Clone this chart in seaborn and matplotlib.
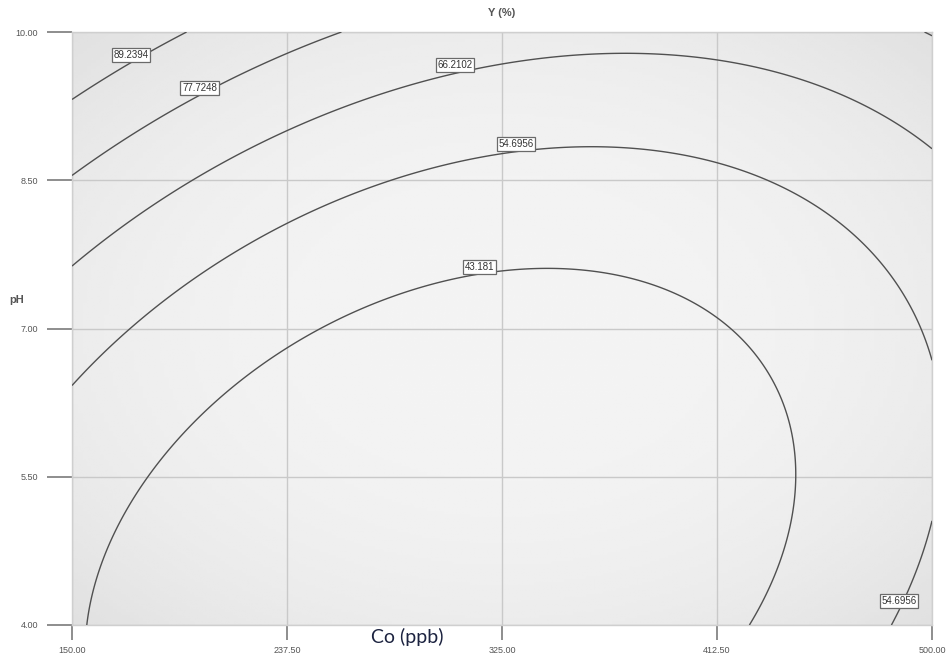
import numpy as np
import matplotlib
matplotlib.use("Agg")
import matplotlib.pyplot as plt
import seaborn as sns

# ---- data ----
co_range = [150.0, 500.0]          # Co (ppb)
ph_range = [4.0, 10.0]             # pH
x_ticks = [150.00, 237.50, 325.00, 412.50, 500.00]
y_ticks = [4.00, 5.50, 7.00, 8.50, 10.00]
x_tick_labels = ["150.00", "237.50", "325.00", "412.50", "500.00"]
y_tick_labels = ["4.00", "5.50", "7.00", "8.50", "10.00"]
levels = [43.181, 54.6956, 66.2102, 77.7248, 89.2394]
level_labels = ["43.181", "54.6956", "66.2102", "77.7248", "89.2394"]

# quadratic response-surface model in coded units (A = Co, B = pH)
model_terms = ["b0", "A", "B", "AB", "A2", "B2"]
model_coefs = [39.0, -2.04, 19.03, -9.31, 18.63, 12.86]

# contour label anchor positions (Co, pH) and which level they show
label_co = [174.0, 201.9, 305.9, 330.7, 316.0, 486.6]
label_ph = [9.767, 9.433, 9.666, 8.867, 7.622, 4.243]
label_text = ["89.2394", "77.7248", "66.2102", "54.6956", "43.181", "54.6956"]

# ---- figure ----
sns.set_theme(style="white")
plt.rcParams["font.family"] = ["Liberation Sans", "DejaVu Sans"]

fig = plt.figure(figsize=(9.51, 6.67), dpi=100)
ax = fig.add_axes([72/951, 1-625/667, 860/951, 593/667])

# surface
xs = np.linspace(co_range[0], co_range[1], 400)
ys = np.linspace(ph_range[0], ph_range[1], 400)
X, Y = np.meshgrid(xs, ys)
A = (X - 325.0) / 175.0
B = (Y - 7.0) / 3.0
c = dict(zip(model_terms, model_coefs))
Z = c["b0"] + c["A"]*A + c["B"]*B + c["AB"]*A*B + c["A2"]*A**2 + c["B2"]*B**2

# subtle radial gray background
u = np.linspace(-1, 1, 200)
U, V = np.meshgrid(u, u)
R = (U**2 + V**2) / 2.0
bg = 0.955 - 0.075 * R**1.3
ax.imshow(bg, extent=[co_range[0], co_range[1], ph_range[0], ph_range[1]],
          origin="lower", aspect="auto", cmap="gray", vmin=0, vmax=1, zorder=0)

ax.contour(X, Y, Z, levels=levels, colors="#505050", linewidths=1.0, zorder=3)

for lx, ly, lt in zip(label_co, label_ph, label_text):
    ax.text(lx, ly, lt, ha="center", va="center", fontsize=7, color="#333333",
            zorder=5,
            bbox=dict(boxstyle="square,pad=0.18", fc="white", ec="#6a6a6a", lw=0.9))

ax.set_xlim(co_range)
ax.set_ylim(ph_range)
ax.set_xticks(x_ticks)
ax.set_xticklabels(x_tick_labels)
ax.set_yticks(y_ticks)
ax.set_yticklabels(y_tick_labels)
ax.grid(True, color="#c9c9c9", lw=1.0, zorder=1)
for gl in ax.get_xgridlines() + ax.get_ygridlines():
    gl.set_zorder(1)
for s in ax.spines.values():
    s.set_color("#cfcfcf")
    s.set_linewidth(1.0)
ax.tick_params(axis="y", left=True, direction="out", length=18, width=1.2,
               color="#7a7a7a", labelsize=6.5, labelcolor="#555555", pad=6.5)
ax.tick_params(axis="x", bottom=True, direction="out", length=11, width=1.2,
               color="#7a7a7a", labelsize=6.5, labelcolor="#555555", pad=4)
ax.set_xlabel("")
ax.set_ylabel("")

fig.text(502/951, 1-13/667, "Y (%)", ha="center", va="center", fontsize=8,
         fontweight="bold", color="#555555")
fig.text(17/951, 1-300/667, "pH", ha="center", va="center", fontsize=8,
         fontweight="bold", color="#555555")
fig.text(407/951, 1-637/667, "Co (ppb)", ha="center", va="center", fontsize=14,
         color="#1c2340", family=["Lato", "DejaVu Sans"])

fig.savefig("out.png", dpi=100)
